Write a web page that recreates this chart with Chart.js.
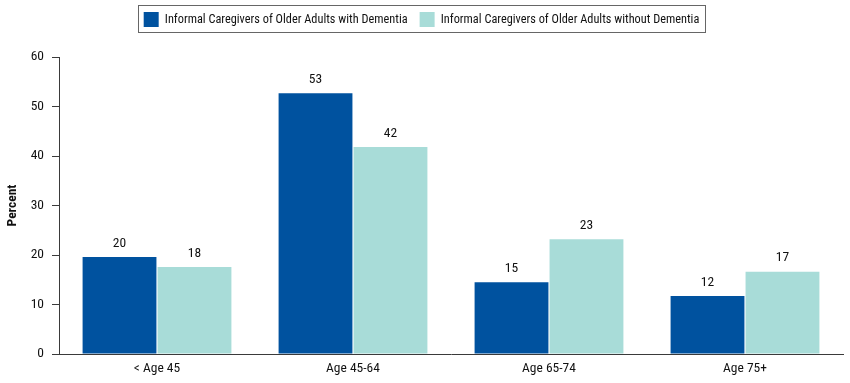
<!DOCTYPE html>
<html>
<head>
<meta charset="utf-8">
<script src="https://cdn.jsdelivr.net/npm/chart.js@4/dist/chart.umd.min.js"></script>
<style>
html,body{margin:0;padding:0;background:#fff;}
#wrap{width:850px;height:383px;position:relative;}
</style>
</head>
<body>
<div id="wrap"><canvas id="c" width="850" height="383"></canvas></div>
<script>
const categories = ["< Age 45", "Age 45-64", "Age 65-74", "Age 75+"];
const withDementia = [19.6, 52.7, 14.5, 11.7];
const withoutDementia = [17.6, 41.8, 23.2, 16.6];
const seriesNames = ["Informal Caregivers of Older Adults with Dementia", "Informal Caregivers of Older Adults without Dementia"];
const yTicks = [0, 10, 20, 30, 40, 50, 60];

const FONT = "'Roboto Condensed', 'DejaVu Sans Condensed', sans-serif";
const DARK = "#00529F";
const LIGHT = "#A8DCD8";
const TEXT = "#111";
const AXIS = "#3a3a3a";

const labelPlugin = {
  id: 'barLabels',
  afterDatasetsDraw(chart) {
    const ctx = chart.ctx;
    ctx.save();
    ctx.font = "13.5px " + FONT;
    ctx.fillStyle = TEXT;
    ctx.textAlign = "center";
    ctx.textBaseline = "bottom";
    chart.data.datasets.forEach((ds, i) => {
      chart.getDatasetMeta(i).data.forEach((bar, j) => {
        ctx.fillText(String(Math.round(ds.data[j])), bar.x, bar.y - 7);
      });
    });
    ctx.restore();
  }
};

const legendTweak = {
  id: 'legendTweak',
  afterInit(chart) {
    const lg = chart.legend;
    if (!lg || lg._tweaked) return;
    const orig = lg.fit.bind(lg);
    lg.fit = function () { orig(); this.height += 20; };
    lg._tweaked = true;
  },
  afterDraw(chart) {
    const lg = chart.legend;
    if (!lg || !lg.legendHitBoxes || !lg.legendHitBoxes.length) return;
    const hb = lg.legendHitBoxes;
    const first = hb[0], last = hb[hb.length - 1];
    const ctx = chart.ctx;
    ctx.save();
    ctx.strokeStyle = "#666";
    ctx.lineWidth = 1;
    const x1 = Math.round(first.left) - 5.5;
    const x2 = Math.round(last.left + last.width) + 6.5;
    const y1 = Math.round(first.top) - 6.5;
    const y2 = Math.round(first.top + first.height) + 5.5;
    ctx.strokeRect(x1, y1, x2 - x1, y2 - y1);
    ctx.restore();
  }
};

new Chart(document.getElementById('c'), {
  type: 'bar',
  data: {
    labels: categories,
    datasets: [
      { label: seriesNames[0], data: withDementia, backgroundColor: DARK, borderWidth: 0 },
      { label: seriesNames[1], data: withoutDementia, backgroundColor: LIGHT, borderWidth: 0 }
    ]
  },
  options: {
    responsive: false,
    animation: false,
    devicePixelRatio: 1,
    layout: { padding: { left: 0, right: 7, top: 0, bottom: 0 } },
    datasets: { bar: { categoryPercentage: 0.765, barPercentage: 0.985 } },
    plugins: {
      tooltip: { enabled: false },
      legend: {
        position: 'top',
        labels: {
          font: { family: FONT, size: 12.3 },
          color: TEXT,
          boxWidth: 15,
          boxHeight: 15,
          padding: 12
        }
      }
    },
    scales: {
      x: {
        afterFit(axis) { axis.height = 29; },
        grid: { display: false, drawTicks: false },
        border: { display: true, color: AXIS, width: 1 },
        ticks: { font: { family: FONT, size: 13.5 }, color: TEXT, padding: 7 }
      },
      y: {
        min: 0, max: 60,
        afterBuildTicks(axis) { axis.ticks = yTicks.map(v => ({ value: v })); },
        afterFit(axis) { axis.width = 59; },
        grid: { drawOnChartArea: false, drawTicks: true, tickLength: 7, color: AXIS },
        border: { display: true, color: AXIS, width: 1 },
        ticks: { font: { family: FONT, size: 13.5 }, color: TEXT, padding: 8 },
        title: { display: true, text: 'Percent', font: { family: FONT, size: 13.5, weight: 'bold' }, color: TEXT, padding: { top: 5, bottom: 0 } }
      }
    }
  },
  plugins: [labelPlugin, legendTweak]
});
</script>
</body>
</html>
